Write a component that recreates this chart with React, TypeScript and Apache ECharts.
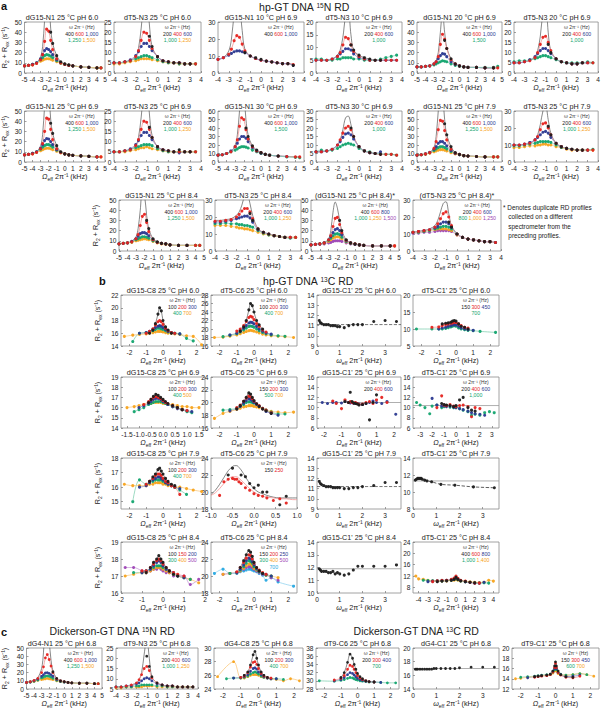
import React, { useEffect, useRef } from "react";
import * as echarts from "echarts";

// ---------- x grids (kHz) ----------
const X_N5 = [-5, -4.5, -4, -3.5, -3, -2.75, -2.5, -2.25, -2, -1.75, -1.5, -1, -0.5, 0, 0.5, 1, 2, 3, 4, 4.5];
const X_N4 = [-4, -3.5, -3, -2.5, -2, -1.75, -1.5, -1.25, -1, -0.75, -0.5, 0, 0.5, 1, 1.5, 2, 2.5, 3, 3.5];
const X_N4G = [-4, -3.5, -3, -2.75, -2.5, -2.25, -2, -1.75, -1.5, -1, -0.5, 0, 0.5, 1, 1.5, 2, 2.5, 3];
const X_C25 = [-2.3, -1.8, -1.4, -1, -0.8, -0.6, -0.45, -0.3, -0.2, -0.1, 0, 0.15, 0.3, 0.5, 0.7, 1, 1.4, 1.8, 2.3];
const X_C16 = [-1.5, -1.2, -1, -0.8, -0.6, -0.5, -0.4, -0.3, -0.2, -0.1, 0, 0.1, 0.2, 0.4, 0.6, 0.8, 1, 1.2, 1.5];
const X_C23 = [-2.1, -1.8, -1.5, -1.3, -1, -0.8, -0.6, -0.5, -0.4, -0.3, -0.2, -0.1, 0, 0.2, 0.4, 0.6, 0.8, 1, 1.3, 1.6, 2.1];
const X_C35 = [-3.3, -3, -2.6, -2.2, -2, -1.6, -1.2, -1, -0.8, -0.5, -0.2, 0, 0.3, 0.6, 1, 1.3, 1.6, 2, 2.4, 2.8, 3.2];
const X_C10 = [-1, -0.9, -0.8, -0.7, -0.6, -0.5, -0.45, -0.4, -0.35, -0.3, -0.2, -0.1, 0, 0.1, 0.2, 0.3, 0.45, 0.6, 0.75, 0.9, 1];
const X_C2 = [-1.8, -1.4, -1, -0.8, -0.6, -0.45, -0.3, -0.2, -0.1, 0, 0.15, 0.3, 0.5, 0.7, 1, 1.3, 1.7];
const X_C45 = [-4.3, -4, -3.5, -3, -2.5, -2, -1.5, -1, -0.5, -0.2, 0, 0.2, 0.5, 1, 1.5, 2, 2.5, 3, 3.5, 4];
const X_C0 = [-2.3, -2, -1.6, -1.2, -1, -0.8, -0.5, -0.3, -0.15, -0.05, 0, 0.05, 0.15, 0.3, 0.6, 1, 1.4, 1.8, 2.2];
const X_W = [0.1, 0.15, 0.2, 0.3, 0.4, 0.5, 0.6, 0.7, 0.8, 0.9, 1, 1.2, 1.4, 1.6, 1.8, 2, 2.5, 3, 3.5];
const X_W28 = [0.1, 0.15, 0.2, 0.25, 0.3, 0.35, 0.4, 0.5, 0.6, 0.8, 1.2, 1.8, 2.6, 3.5];

const _ = null;

// ---------- panel a : hp-GT 15N ----------
// 01 dG15-N1 25C pH 6.0
const W01 = ["400", "600", "1,000", "1,250", "1,500"];
const Y01 = [
  [_, _, _, _, _, _, _, _, _, 40, 29, 17, 11, 9, 8, 7, 6, 5.5, 5, _],
  [7, 7.5, 8, 9.5, 13, 18, 31, 43, 41, 32, 23, 14, 10, 8.5, 7.5, 7, 6, 5.5, 5, 5],
  [7, 7.5, 8.5, 10, 14, 18, 22, 24, 23, 21, 18, 13, 10, 8.5, 7.5, 7, 6, 5.5, _, _],
  [7, 7.5, 8.5, 10, 13, 15, 17, 18, 17.5, 16.5, 15, 12, 10, 8.5, 7.5, 7, 6, 5.5, 5, 5],
  [7, 7.5, 8, 9.5, 11.5, 12.5, 13.5, 14, 14, 13.5, 12.5, 11, 9.5, 8.5, 7.5, 7, 6, 5.5, 5, 5],
];
const F01 = [7, 7.5, 8.5, 10, 16, 26, 52, 80, 72, 44, 29, 17, 11, 9, 8, 7, 6, 5.5, 5, 5];
// 02 dT5-N3 25C pH 6.0
const W02 = ["200", "400", "600", "1,000", "1,250"];
const Y02 = [
  [_, _, _, _, _, _, _, _, _, 18, 13, 8, 6, 5.5, 5, 5, 4.5, 4.5, _],
  [5, 5, 5.5, 6, 8, 11, 16, 20, 19.5, 16, 12, 8, 6, 5.5, 5, 5, 4.5, 4.5, 4.5],
  [5, 5, 5.5, 6.5, 8.5, 10.5, 13, 14.5, 14.5, 13, 11, 8, 6, 5.5, 5, 5, 4.5, 4.5, _],
  [5, 5, 5.5, 6, 7, 7.5, 8, 8.5, 8.5, 8, 7.5, 6.5, 5.5, 5, 5, 4.5, 4.5, 4.5, 4.5],
  [4.5, 4.5, 5, 5.5, 6, 6.5, 7, 7, 7, 7, 6.5, 6, 5.5, 5, 5, 4.5, 4.5, 4.5, 4.5],
];
const F02 = [5, 5, 5.5, 6, 8, 12, 22, 35, 40, 24, 13, 8, 6, 5.5, 5, 5, 4.5, 4.5, 4.5];
// 03 dG15-N1 10C pH 6.9
const W03 = ["400", "600", "1,000"];
const Y03 = [
  [_, _, _, _, _, _, _, _, 12, 10, 9, 8, 7, 6.5, 6, 5.5, 5.5, 4.5],
  [8, 9, 11, 14, 19, 22, 21, 17, 13, 10, 8.5, 7.5, 7, 6.5, 6, 5.5, 5.5, 5],
  [8, 9, 10.5, 11.5, 12.5, 13, 13, 12.5, 12, 10, 8.5, 7.5, 7, 6.5, 6, 5.5, 5.5, 4.5],
];
const F03 = [8, 9, 13, 20, 35, 45, 40, 25, 14, 10, 8.5, 7.5, 7, 6.5, 6, 5.5, 5.5, 5];
// 04 dT5-N3 10C pH 6.9
const W04 = ["200", "400", "600", "1,000"];
const Y04 = [
  [_, _, _, _, _, _, _, _, _, 11, 9, 7, 6, 5.5, 5, 5, _, _, _],
  [5, 5, 5, 5.5, 6.5, 8, 11, 14, 13.5, 11, 8.5, 6.5, 5.5, 5, 5, 5, 5, 5, 5],
  [5, 5, 5, 5.5, 6.5, 7.5, 8.5, 9.5, 9.5, 9, 7.5, 6, 5.5, 5, 5, 5, 5, 5, 5],
  [5.5, 5.5, 5, 5, 5.5, 5.5, 6, 6, 6, 6, 5.5, 5.5, 5, 5, 5, 5.5, 6, 6.5, 7],
];
const F04 = [5, 5, 5, 5.5, 7, 9, 14, 22, 24, 15, 9, 7, 6, 5.5, 5, 5, 5, 5, 5];
// 05 dG15-N1 20C pH 6.9
const W05 = ["400", "600", "1,000", "1,500"];
const Y05 = [
  [_, _, _, _, _, _, _, _, _, 32, 24, 14, 9, 7, 6, 5.5, 5.5, 5, 5, _],
  [6, 6, 6.5, 7, 9, 11, 16, 28, 38, 33, 24, 13, 9, 7, 6, 5.5, 5.5, 5, 5, 5],
  [6, 6, 6.5, 7, 9, 11, 14, 17, 19, 18.5, 16, 11, 8.5, 7, 6, 5.5, 5.5, 5, 5, _],
  [6, 6, 6.5, 7, 8, 9, 10, 11, 12, 11.5, 11, 9, 7.5, 6.5, 6, 5.5, 5.5, 5.5, 5.5, 6.5],
];
const F05 = [6, 6, 6.5, 7, 9, 12, 20, 40, 60, 40, 25, 14, 9, 7, 6, 5.5, 5.5, 5, 5, 5];
// 06 dT5-N3 20C pH 6.9
const W06 = ["200", "400", "600", "1,000"];
const Y06 = [
  [_, _, _, _, _, _, _, _, _, 14, 10, 7, 5.5, 5, 4.5, 4.5, 5, _, _],
  [5, 5, 5.5, 6, 7.5, 10, 14, 17.5, 18, 15, 11, 7, 5.5, 5, 4.5, 4.5, 5, 5, 5],
  [5, 5, 5.5, 6.5, 8, 9.5, 11, 12, 12, 11, 9.5, 7, 5.5, 5, 4.5, 4.5, 5, 5, _],
  [5.5, 6, 6, 6.5, 7, 7.5, 8, 8.5, 8.5, 8, 7.5, 6.5, 5.5, 5, 5, 5, 5, 5.5, 5],
];
const F06 = [5, 5, 5.5, 6, 8, 11, 18, 30, 36, 20, 11, 7, 5.5, 5, 4.5, 4.5, 5, 5, 5];
// 07 dG15-N1 25C pH 6.9
const W07 = ["400", "600", "1,000", "1,250", "1,500"];
const Y07 = [
  [_, _, _, _, _, _, _, _, _, 38, 28, 16, 10, 8, 7, 6.5, 6, 5.5, _, _],
  [7, 7.5, 8, 9.5, 13, 18, 30, 43, 42, 32, 22, 13, 9.5, 8, 7, 6.5, 6, 5.5, 5, 5],
  [7, 7.5, 8.5, 10, 13.5, 17, 21, 23, 22.5, 20, 17, 12, 9.5, 8, 7, 6.5, 6, 5.5, 5, _],
  [7, 7.5, 8.5, 10, 12.5, 14.5, 16, 17, 17, 16, 14.5, 11.5, 9.5, 8, 7, 6.5, 6, 5.5, 5, _],
  [7, 7.5, 8, 9.5, 11, 12, 13, 13.5, 13.5, 13, 12, 10.5, 9, 8, 7, 6.5, 6, 5.5, 5, 5],
];
const F07 = [7, 7.5, 8.5, 10, 16, 27, 55, 80, 70, 42, 28, 16, 10, 8, 7, 6.5, 6, 5.5, 5, 5];
// 08 dT5-N3 25C pH 6.9
const W08 = ["200", "400", "600", "1,000", "1,250"];
const Y08 = [
  [_, _, _, _, _, _, _, _, _, 17, 12, 7.5, 6, 5.5, 5, 6, 5, 5, _],
  [5, 5, 5.5, 6, 8, 11, 16, 20, 19.5, 16, 12, 7.5, 6, 5.5, 5, 5, 5, 5, 5],
  [5, 5, 5.5, 6.5, 8.5, 10.5, 13, 14.5, 14.5, 13, 11, 7.5, 6, 5.5, 5, 4.5, 5, 5, _],
  [5, 5, 5.5, 6, 7, 7.5, 8, 8.5, 8.5, 8.5, 8, 6.5, 5.5, 5, 5, 5, 5, 5, 5],
  [5, 5, 5, 5.5, 6, 6.5, 7, 7, 7.5, 7, 6.5, 6, 5.5, 5, 5, 5, 5, 5, 5],
];
const F08 = [5, 5, 5.5, 6, 8, 12, 22, 35, 40, 24, 13, 7.5, 6, 5.5, 5, 5, 5, 5, 5];
// 09 dG15-N1 30C pH 6.9
const W09 = ["400", "600", "1,000", "1,500"];
const Y09 = [
  [_, _, _, _, _, _, _, _, _, 40, 30, 19, 14, 11, 9, 8, 7, _, _, _],
  [8, 8.5, 10, 12, 18, 26, 42, 52, 50, 38, 27, 18, 13, 11, 9, 8, 7, 6.5, 6, 6],
  [8, 8.5, 10, 13, 18, 22, 27, 30, 30, 28, 24, 17, 13, 10.5, 9, 8, 7, 6.5, _, _],
  [8, 8.5, 10, 12, 14, 15.5, 17, 18, 18, 17.5, 16.5, 14, 12, 10, 9, 8, 7, 6, 5.5, 5],
];
const F09 = [8, 8.5, 10, 12, 20, 32, 60, 90, 80, 50, 32, 19, 14, 11, 9, 8, 7, 6.5, 6, 6];
// 10 dT5-N3 30C pH 6.9
const W10 = ["200", "400", "600", "1,000"];
const Y10 = [
  [_, _, _, _, _, _, _, _, _, 20, 15, 9, 6.5, 5.5, 5, 4.5, _, _, _],
  [6, 6, 6.5, 7.5, 10, 13, 17, 20, 21, 19, 15, 9, 6.5, 5.5, 5, 4.5, 4.5, 4.5, 4],
  [6, 6, 6.5, 7.5, 10, 12, 14.5, 16.5, 17, 16, 13.5, 9, 6.5, 5.5, 5, 6, _, _, _],
  [6, 7, 6.5, 7, 8, 9, 10, 10.5, 11, 10.5, 10, 8, 6.5, 6, 5, 5, 4.5, 4.5, 4],
];
const F10 = [6, 6, 6.5, 7.5, 10, 13, 19, 26, 27, 22, 15, 9, 6.5, 5.5, 5, 4.5, 4.5, 4.5, 4];
// 11 dG15-N1 25C pH 7.9
const W11 = ["400", "600", "1,000", "1,250", "1,500"];
const Y11 = [
  [_, _, _, _, _, _, _, _, _, 45, 32, 18, 11, 9, 7.5, 7, 6.5, 6, _, _],
  [8, 8.5, 9.5, 11, 16, 24, 38, 49, 48, 37, 26, 15, 10.5, 9, 7.5, 7, 6.5, 6, 6, 6],
  [8, 8.5, 9.5, 11.5, 15, 18, 22, 24, 24, 22, 19, 13.5, 10, 8.5, 7.5, 7, 6.5, 6, _, _],
  [8, 8.5, 9.5, 11, 13.5, 15.5, 17, 18, 18, 17, 15.5, 12.5, 10, 8.5, 7.5, 7, 6.5, 6, 6, 6],
  [8, 8.5, 9, 10.5, 12, 13, 14, 14.5, 14.5, 14, 13, 11, 9.5, 8.5, 7.5, 7, 6.5, 6, 6, 6],
];
const F11 = [8, 8.5, 9.5, 11, 17, 30, 60, 90, 80, 50, 32, 18, 11, 9, 7.5, 7, 6.5, 6, 6, 6];
// 12 dT5-N3 25C pH 7.9
const W12 = ["200", "400", "600", "1,000", "1,250"];
const Y12 = [
  [_, _, _, _, _, _, _, _, _, 21, 16, 11, 9, 8, 7.5, 7, 7, _, _],
  [10, 10, 10.5, 11, 13, 15, 19, 22.5, 23, 20, 16, 11, 9, 8, 7.5, 7, 7, 7, 7],
  [10, 10, 10.5, 11.5, 13, 14.5, 16, 17.5, 18, 17, 14.5, 11, 9, 8, 7.5, 7, 7, 7, _],
  [9.5, 9.5, 10, 10.5, 11, 11.5, 12, 12, 12, 12, 11.5, 10, 8.5, 8, 7.5, 7, 7, 7, 7.5],
  [8.5, 8.5, 9, 9.5, 9.5, 10, 10, 10.5, 10.5, 10, 10, 9, 8.5, 7.5, 7, 7, 7, 7, 7],
];
const F12 = [10, 10, 10.5, 11, 13, 16, 22, 30, 33, 25, 17, 11, 9, 8, 7.5, 7, 7, 7, 7];
// 13 dG15-N1 25C pH 8.4
const W13 = ["400", "600", "1,000", "1,250", "1,500"];
const Y13 = [
  [_, _, _, _, _, _, _, _, _, 30, 22, 12, 9, 7.5, 7, 6, 5.5, 5.5, _, _],
  [7, 7.5, 8, 9, 12, 16, 25, 34, 36, 28, 19, 11, 8.5, 7.5, 7, 6, 5.5, 5.5, 5.5, 5.5],
  [7, 7.5, 8, 9.5, 12, 14.5, 17, 18, 18, 17, 15, 11, 8.5, 7.5, 7, 6, 5.5, 5.5, _, _],
  [7, 7.5, 8, 9, 11, 12, 13, 14, 14, 13.5, 12.5, 10, 8.5, 7.5, 7, 6, 5.5, 5.5, 5.5, 5.5],
  [7, 7.5, 8, 8.5, 10, 10.5, 11, 11.5, 12, 11.5, 11, 9.5, 8, 7, 6.5, 6, 5.5, 5.5, 5.5, 5.5],
];
const F13 = [7, 7.5, 8, 9.5, 14, 22, 40, 60, 55, 35, 22, 12, 9, 7.5, 7, 6, 5.5, 5.5, 5.5, 5.5];
// 14 dT5-N3 25C pH 8.4
const W14 = ["200", "400", "600", "1,000", "1,250"];
const Y14 = [
  [_, _, _, _, _, _, _, _, _, 22, 18, 13, 11, 10, 9, 8.5, 8, _, _],
  [17.5, 17.5, 18, 18.5, 20, 21.5, 23.5, 25, 25, 23, 19, 13, 11, 10, 9, 8.5, 8, 8, 8],
  [17, 17, 17.5, 18, 19, 19.5, 20, 20.5, 20.5, 19.5, 17, 12.5, 11, 10, 9, 8.5, 8, 8, _],
  [16, 16, 16.5, 16, 16, 15.5, 15.5, 15, 15, 14.5, 14, 12, 10.5, 9.5, 9, 8.5, 8, 7.5, 8],
  [15, 15, 15, 14.5, 14, 13.5, 13.5, 13, 13, 12.5, 12, 11, 10, 9.5, 9, 8.5, 8, 8, 8],
];
const F14 = [18, 18, 18.5, 19, 21, 23, 27, 32, 33, 28, 21, 13, 11, 10, 9, 8.5, 8, 8, 8];
// 15 (dG15-N1 25C pH 8.4)*
const W15 = ["400", "600", "800", "1,000", "1,250", "1,500"];
const Y15 = [
  [_, _, _, _, _, _, _, _, _, 30, 20, 11, 8, 7, 6, 5.5, 5, 5, 5, _],
  [6, 6.5, 7, 8, 11, 15, 24, 32, 33, 26, 18, 10.5, 8, 7, 6, 5.5, 5, 5, 5, 5],
  [6, 6.5, 7, 8, 11, 14, 18, 21, 22, 20, 16, 10, 8, 6.5, 6, 5.5, 5, 5, 5, _],
  [6, 6.5, 7, 8, 10.5, 12.5, 15, 16.5, 17, 16, 13.5, 9.5, 7.5, 6.5, 6, 5.5, 5, 5, 5, _],
  [6, 6.5, 7, 7.5, 9.5, 11, 12.5, 13.5, 14, 13.5, 12, 9, 7.5, 6.5, 6, 5.5, 5, 5, 5, 5],
  [6, 6.5, 6.5, 7, 8, 8.5, 9.5, 10, 10, 10, 9.5, 8, 7, 6.5, 6, 5.5, 5, 5, 5, 5],
];
const F15 = [6, 6.5, 7, 8, 12, 20, 38, 48, 42, 30, 20, 11, 8, 7, 6, 5.5, 5, 5, 5, 5];
// 16 (dT5-N3 25C pH 8.4)*
const W16 = ["200", "400", "600", "800", "1,000", "1,250"];
const Y16 = [
  [_, _, _, _, _, _, _, _, _, 17, 14, 10, 8, 7, 6.5, 6, 5.5, 5.5, _],
  [11, 11.5, 12, 12.5, 14, 16, 19, 22, 23, 20, 15, 10, 8, 7, 6.5, 6, 5.5, 5.5, 5],
  [11, 11.5, 12, 12.5, 13.5, 14.5, 16, 17, 17, 16, 14, 10, 8, 7, 6.5, 6, 5.5, 5.5, 5],
  [11, 11, 11.5, 12, 13, 13.5, 14, 14.5, 14.5, 14, 13, 10, 8, 7, 6.5, 6, 5.5, 5.5, 5],
  [11, 11, 11.5, 12, 12.5, 13, 13, 13, 13, 12.5, 12, 9.5, 8, 7, 6.5, 6, 5.5, 5.5, 5],
  [10.5, 10.5, 11, 11, 11.5, 12, 12, 12, 12, 12, 11.5, 9.5, 8, 7, 6.5, 6, 5.5, 5.5, 5],
];
const F16 = [11, 11.5, 12, 13, 15, 18, 23, 28, 29, 22, 15, 10, 8, 7, 6.5, 6, 5.5, 5.5, 5];

// ---------- panel b : hp-GT 13C ----------
const W17 = ["100", "200", "300", "400", "700"];
const Y17 = [
  [_, _, _, _, 16, 16.5, 17.5, 19, 20, 19.5, 18, 17, 16.5, 16, _, _, _, _, _],
  [_, _, _, 16, 16.3, 16.7, 17.3, 17.8, 18, 17.8, 17.4, 16.8, 16.4, 16.1, 16, _, _, _, _],
  [_, _, 16, 16.1, 16.3, 16.6, 16.9, 17.1, 17.2, 17.1, 16.9, 16.6, 16.3, 16.1, 16, 15.9, _, _, _],
  [_, 14.7, 16, 16.1, 16.2, 16.4, 16.6, 16.8, 16.8, 16.7, 16.6, 16.4, 16.2, 16.1, 16, 15.9, 15.2, 14.8, _],
  [15.5, 15.7, 15.8, 15.9, 16, 16.1, 16.2, 16.3, 16.3, 16.3, 16.2, 16.1, 16, 16, 15.9, 15.8, 15.6, 15.5, 14.2],
];
const W18 = ["100", "200", "300", "400", "700"];
const Y18 = [
  [_, _, _, _, 19.5, 20.5, 22, 24.5, 26, 25.5, 24, 22, 21, 20, _, _, _, _, _],
  [_, _, _, 19.5, 20, 20.8, 21.8, 22.7, 23, 22.8, 22.2, 21.3, 20.6, 19.8, 19.3, _, _, _, _],
  [_, _, 18.6, 19, 19.5, 20.2, 20.8, 21.4, 21.6, 21.5, 21.2, 20.6, 20, 19.5, 19.1, 18.8, _, _, _],
  [_, 18.2, 18.5, 18.9, 19.3, 19.8, 20.2, 20.6, 20.7, 20.6, 20.4, 20, 19.6, 19.2, 18.9, 18.6, 18.4, 18.3, _],
  [18, 18.1, 18.3, 18.6, 18.9, 19.2, 19.4, 19.6, 19.7, 19.6, 19.5, 19.3, 19.1, 18.8, 18.6, 18.4, 18.3, 18.2, 18],
];
const Y19 = [[11.5, 11.3, 11.2, 11.1, 11.1, 11.1, 11, 11, 11, 10.9, 10.9, 10.8, 11, 11.1, 11.1, 11.1, 11.4, 11.5, 11.4]];
const R19 = [[0, 11.1], [3.7, 11.1]];
const W20 = ["150", "300", "450", "700"];
const Y20 = [
  [_, _, _, _, 11.5, 11.7, 11.8, 12, 12.3, 12.5, 12.3, 11.5, 10.8, 10.5, 10, _, _, _, _],
  [_, _, 10.5, 10.6, 11, 11.3, 11.5, 11.7, 11.8, 12, 11.9, 11.5, 11, 10.5, 10.3, _, _, _, _],
  [_, _, _, 10, 10.3, 10.5, 10.8, 11, 11.2, 11.3, 11.2, 10.8, 10.3, 10, 9.8, 9.6, _, _, _],
  [10, _, 10, 10, 10, 10.2, 10.4, 10.6, 10.8, 11, 10.8, 10.3, 10, 9.8, 9.6, 9.5, 9.3, _, 9],
];
const W21 = ["100", "200", "300", "400", "500"];
const Y21 = [
  [_, _, _, _, 16.5, 16.8, 17.1, 17.3, 17.2, 17, 16.8, 16.6, 16.4, 16.2, 16, 15.8, _, _, _],
  [_, _, _, 16.3, 16.6, 16.8, 17, 17.1, 17, 16.9, 16.7, 16.5, 16.4, 16.2, 16, 15.8, 15.7, _, _],
  [_, _, 16, 16.2, 16.4, 16.6, 16.8, 16.9, 16.9, 16.8, 16.6, 16.5, 16.3, 16.1, 15.9, 15.8, 15.7, 15.6, _],
  [_, 15.6, 15.8, 16, 16.3, 16.4, 16.5, 16.6, 16.6, 16.6, 16.5, 16.4, 16.3, 16.1, 16, 15.8, 15.6, 15.5, _],
  [16, 16.1, 16.2, 16.3, 16.4, 16.4, 16.5, 16.5, 16.5, 16.5, 16.4, 16.4, 16.3, 16.3, 16.2, 16.1, 16.1, 16, 16],
];
const W22 = ["150", "200", "300", "500", "700"];
const Y22 = [
  [_, _, _, 19, 19.5, 20.2, 20.8, 21.5, 21.3, 20.8, 20.3, 19.8, 19.4, 19, 18.7, 18.3, _, _, _],
  [_, _, _, 19.2, 19.6, 20.2, 20.7, 21, 20.9, 20.6, 20.2, 19.8, 19.5, 19.1, 18.8, 18.4, _, _, _],
  [_, _, 18.7, 19, 19.4, 19.9, 20.3, 20.6, 20.5, 20.3, 20, 19.7, 19.4, 19, 18.6, 18.3, 18, _, _],
  [_, 18.8, 18.9, 19.1, 19.4, 19.7, 20, 20.1, 20.1, 20, 19.9, 19.7, 19.4, 19.1, 18.8, 18.5, 18.2, 18.2, _],
  [17.5, 18.3, 18.6, 18.9, 19.1, 19.3, 19.4, 19.5, 19.5, 19.5, 19.4, 19.3, 19.2, 19, 18.8, 18.6, 18.5, 18.4, 18.5],
];
const W23 = ["200", "400", "600"];
const Y23 = [
  [_, _, _, _, _, 11.2, 11, 13, 11.2, 10.9, 10.8, 10.7, 10.5, 10.6, 10.8, 7.6, 11, 12.5, _, _, _],
  [_, _, 11.3, 10.8, 9.8, 11.5, 11, 11.2, 11, 10.9, 11, 10.8, 10.6, 10.7, 11, 11.2, 10.8, 11.5, 12, 11, _],
  [11, 10.8, 11, 11, 10.9, 11.2, 11, 10.9, 11, 10.8, 10.9, 10.8, 10.7, 10.6, 10.8, 11, 11.3, 11, 10.8, 11.2, 8.7],
];
const R23 = [[-2.4, 11], [2.4, 11]];
const W24 = ["200", "400", "600", "1,000"];
const Y24 = [
  [_, _, _, _, _, _, 10.8, 10.6, 10.5, 10.4, 10.2, 10.4, 11.5, 12, 10, 9.5, 9.3, _, _, _, _],
  [_, _, _, _, _, 10, 12.3, 10.5, 10.4, 10.6, 10.3, 10.2, 10.4, 10.5, 10.2, 8.2, 10, 9.8, _, _, _],
  [_, _, _, _, 11.8, 10.5, 10.3, 10.4, 10.2, 10.3, 10.1, 10, 9.8, 9.6, 9.3, 9, 8.8, 8.7, 8.5, _, _],
  [11, 10.5, 10, 8.8, 10.3, 10.5, 10, 10.2, 10.4, 10.1, 10, 10, 9.8, 9.5, 9.2, 8.5, 8.7, 8.5, 9, 9.2, 9],
];
const R24 = [[-3.6, 10.4], [3.6, 10.4]];
const W25 = ["100", "200", "300", "400", "700"];
const Y25 = [
  [_, _, _, _, 16.4, 16.7, 16.9, 17.2, 17.3, 17.1, 16.9, 16.6, 16.4, 16.2, 16.1, _, _, _, _],
  [_, _, _, 16.2, 16.4, 16.6, 16.8, 16.9, 16.9, 16.8, 16.6, 16.4, 16.3, 16.1, 16, 15.5, _, _, _],
  [_, _, 16, 16.1, 16.3, 16.5, 16.6, 16.7, 16.7, 16.6, 16.5, 16.3, 16.2, 16.1, 16, 15.9, _, _, _],
  [_, 15, 16.5, 16.2, 16.3, 16.4, 16.5, 16.5, 16.5, 16.5, 16.4, 16.3, 16.2, 16.1, 16, 15.8, 15.5, _, _],
  [16.2, 16.1, 16.1, 16.1, 16.2, 16.2, 16.3, 16.3, 16.3, 16.3, 16.2, 16.2, 16.1, 16.1, 16, 16, 15.9, 15.8, 15.7],
];
const W26 = ["150", "250"];
const Y26 = [
  [_, _, _, _, 22, 22.8, _, _, _, 22, 21.8, 21, 20.5, 20.8, 20, 20, _, 18.5, 19.5, _, _],
  [_, _, 19.6, 21.2, 21.5, 21.6, 21.5, 21.5, 21.2, 21, 20.5, 20.2, 19.8, 19.6, 19.5, 19.3, 19, 19.2, 18.7, _, _],
];
const F26 = [
  [19.7, 20.2, 20.9, 21.7, 22.5, 23, 23.1, 23.1, 22.9, 22.6, 21.8, 21, 20.4, 20, 19.8, 19.6, 19.4, 19.3, 19.3, 19.3, 19.3],
  [19.6, 19.9, 20.4, 21, 21.5, 21.8, 21.8, 21.8, 21.6, 21.4, 20.9, 20.4, 20, 19.7, 19.5, 19.4, 19.3, 19.2, 19.2, 19.1, 19.1],
];
const Y27 = [[11.7, 11.5, 11.4, 11.3, 11.2, 11.2, 11.2, 11.1, 11.1, 11.1, 11.1, 11, 11, 11.1, 11.1, 11.2, 11.3, 11.6, 11.6]];
const R27 = [[0, 11.2], [3.7, 11.2]];
const Y28 = [[11.4, 11.5, 11.6, 11.6, 11.6, 11.6, 11.5, 11.4, 11.3, 11.2, 10.9, 10.8, 10.6, 10.5]];
const R28 = [[0, 11.3], [3.7, 11.3]];
const W29 = ["100", "150", "200", "300", "400", "500"];
const Y29 = [
  [_, _, _, 17.2, 17.5, 17.8, 18, 18.2, 18, 17.8, 17.5, 17.3, 17.1, 17, _, _, _],
  [_, _, 17.3, 17.3, 17.5, 17.7, 17.9, 18, 17.9, 17.7, 17.5, 17.3, 17.2, 17.1, 17, _, _],
  [_, _, 17.2, 17.3, 17.4, 17.6, 17.8, 17.9, 17.8, 17.6, 17.4, 17.3, 17.2, 17, 16.9, _, _],
  [_, 17.2, 17.2, 17.3, 17.4, 17.5, 17.6, 17.6, 17.6, 17.5, 17.4, 17.3, 17.1, 17, 16.9, 16.8, _],
  [17, 17.1, 17.2, 17.2, 17.3, 17.4, 17.5, 17.5, 17.5, 17.4, 17.3, 17.2, 17.1, 17, 16.9, 16.8, 16.6],
  [17.5, 17.5, 17.3, 17.2, 17.3, 17.4, 17.4, 17.5, 17.4, 17.3, 17.2, 17.2, 17, 17, 17, 16.5, 16.8],
];
const W30 = ["150", "200", "250", "300", "400", "500", "700"];
const Y30 = [
  [_, _, _, _, 21, 21.8, 22.5, 23, 22.8, 22.3, 21.6, 21, 20.6, 20.3, _, _, _, _, _],
  [_, _, _, 20.5, 21, 21.6, 22.1, 22.5, 22.4, 22, 21.5, 21, 20.7, 20.4, 20.2, _, _, _, _],
  [_, _, _, 20.4, 20.8, 21.3, 21.8, 22.1, 22, 21.7, 21.3, 20.9, 20.6, 20.3, 20.2, 20, _, _, _],
  [_, _, 20.3, 20.4, 20.7, 21.1, 21.5, 21.8, 21.7, 21.5, 21.1, 20.8, 20.5, 20.3, 20.1, 20, _, _, _],
  [_, 20.2, 20.3, 20.4, 20.6, 20.9, 21.2, 21.4, 21.4, 21.2, 20.9, 20.7, 20.5, 20.3, 20.1, 20, 19.8, _, _],
  [_, 20.2, 20.3, 20.4, 20.6, 20.8, 21, 21.1, 21.1, 21, 20.8, 20.6, 20.4, 20.2, 20.1, 19.8, 19.5, _, _],
  [20.3, 20.8, 20.3, 20.3, 20.5, 20.6, 20.7, 20.8, 20.8, 20.7, 20.6, 20.5, 20.3, 20.1, 19.5, 19.8, 19.3, _, 18.8],
];
const Y31 = [[11.9, 11.8, 11.7, 11.7, 11.7, 11.6, 11.6, 11.7, 11.5, 11.6, 11.5, 11.4, 11.5, 11.8, 12.1, 12.1, 12.1, 12.1, 12.2]];
const R31 = [[0, 11.9], [3.7, 11.9]];
const W32 = ["400", "600", "800", "1,000", "1,400"];
const Y32 = [
  [_, _, _, _, _, 10, 10.2, 10.3, 10.5, 10.8, 11.5, 10.8, 10.3, 10, 9.8, 9.6, _, _, _, _],
  [_, _, _, _, 10, 10.3, 10.5, 10.5, 10.8, 11.3, 12, 11.2, 10.5, 10.2, 9.8, 9.5, 9.5, _, _, _],
  [_, _, _, 10, 10.2, 10.3, 10.4, 10.5, 10.6, 11, 11.5, 11, 10.4, 10, 9.7, 9.5, 9.5, 9.8, _, _],
  [_, _, 10.5, 10.4, 10.3, 10.3, 10.3, 10.4, 10.5, 10.8, 11.2, 10.7, 10.3, 10, 9.8, 9.6, 9.5, 9.6, 9.5, _],
  [12, 11, 10.8, 10.5, 10.3, 10.2, 10.3, 10.3, 10.4, 10.5, 10.8, 10.5, 10.3, 10.1, 9.9, 9.8, 9.7, 9.8, 10.5, 10.2],
];

// ---------- panel c : Dickerson-GT ----------
const W33 = ["400", "600", "1,000", "1,250", "1,500"];
const Y33 = [
  [_, _, _, _, _, _, _, _, _, _, 21, 13, 10, 9, 8, 7.5, 7, 7, 6.5, _],
  [8, 9, 10.5, 13, 20, 27, 38, 42, 36, 28, 20, 12.5, 10, 9, 8, 7.5, 7, 7, 6.5, 6.5],
  [8, 8.5, 10, 12, 15.5, 17.5, 19.5, 20, 19, 17.5, 15.5, 11.5, 9.5, 8.5, 8, 7.5, 7, 7, 6.5, _],
  [8, 8.5, 9.5, 11, 13.5, 14.5, 15.5, 16, 15.5, 14.5, 13, 10.5, 9, 8.5, 8, 7.5, 7, 7, 6.5, 6.5],
  [8, 8.5, 9, 10.5, 11.5, 12, 12.5, 13, 12.5, 12, 11.5, 10, 9, 8.5, 8, 7.5, 7, 7, 6.5, 6.5],
];
const F33 = [8, 9, 10.5, 14, 25, 45, 80, 90, 60, 35, 22, 13, 10, 9, 8, 7.5, 7, 7, 6.5, 6.5];
const W34 = ["200", "400", "600", "1,000", "1,250"];
const Y34 = [
  [_, _, _, _, _, _, _, _, 21, 16, 11, 8, 7, 6.5, 6.5, 6, 6, 6, 6],
  [6, 6, 6.5, 7, 8, 9.5, 12, 15, 16, 14, 10.5, 8, 7, 6.5, 6.5, 6, 6, 6, 6],
  [6, 6, 6.5, 6.5, 7.5, 8, 9, 10, 10.5, 10, 9, 7.5, 7, 6.5, 6.5, 6, 6, 6, 6],
  [6, 6, 6, 6, 6.5, 6.5, 7, 7, 7, 7, 7, 6.5, 6.5, 6, 6, 6, 6, 6, 6],
  [5.5, 5.5, 6, 6, 6, 6, 6, 6.5, 6.5, 6.5, 6.5, 6, 6, 6, 6, 6, 6, 6, 6],
];
const F34 = [6, 6, 6.5, 7, 8, 9.5, 13, 22, 30, 20, 11, 8, 7, 6.5, 6.5, 6, 6, 6, 6];
const W35 = ["100", "200", "300", "400", "700"];
const Y35 = [
  [_, _, _, _, 26, 26.5, 27.5, 29, 29.5, 28.5, 27.5, 26.5, 26, 25.7, _, _, _, _, _],
  [_, _, _, 25.7, 25.9, 26.4, 27.2, 27.9, 28, 27.6, 27, 26.3, 25.9, 25.7, 25.6, _, _, _, _],
  [_, _, 25.6, 25.7, 25.8, 26.1, 26.6, 27, 27.1, 26.9, 26.5, 26.1, 25.8, 25.6, 25.5, 25.5, _, _, _],
  [_, 25.5, 25.6, 25.6, 25.7, 25.9, 26.2, 26.4, 26.5, 26.4, 26.2, 25.9, 25.7, 25.6, 25.5, 25.5, 25.4, _, _],
  [25.8, _, 28, 25.6, 25.6, 25.8, 26, 26.1, 26.1, 26.1, 26, 25.8, 25.7, 25.6, 25.5, 25.4, 25.2, 25.5, 25.2],
];
const W36 = ["200", "300", "400", "700"];
const Y36 = [
  [_, _, _, 30.8, 32, 34.5, 36.5, 35.5, 34, 32.8, 31.8, 31, 30.5, 30, 29.8, 29.7, _, _, _],
  [_, _, 30.2, 30.6, 31.3, 32.8, 33.8, 33.5, 32.8, 32, 31.3, 30.7, 30.3, 30, 29.8, 29.7, _, _, _],
  [_, _, 30, 30.3, 30.8, 31.5, 32, 31.8, 31.4, 31, 30.6, 30.3, 30.1, 29.9, 29.8, 29.7, 29.6, _, _],
  [30, _, 29.9, 30.1, 30.3, 30.6, 30.8, 30.7, 30.5, 30.3, 30.2, 30, 29.9, 29.8, 29.7, 29.7, 29.6, 29.5, 29.5],
];
const Y37 = [[16.9, 16.9, 16.9, 16.9, 16.9, 16.9, 16.9, 16.9, 16.9, 17, 17, 17, 17, 17, 17, 17.1, 17.2, 17.2, 17.2]];
const R37 = [[0, 17], [3.7, 17]];
const W38 = ["150", "300", "450", "600", "700"];
const Y38 = [
  [_, _, _, 14.4, 14.5, 14.6, 14.7, 14.9, 15.5, 16.5, 17.3, 16.5, 15.5, 14.8, 14.4, 14.3, _, _, _],
  [_, _, _, 14.3, 14.4, 14.5, 14.6, 14.8, 15.3, 16.2, 17, 16.2, 15.2, 14.7, 14.3, 14.2, 14.5, _, _],
  [_, _, 14.2, 14.4, 14.5, 14.6, 14.7, 14.9, 15.4, 16, 16.5, 16, 15.2, 14.8, 14.4, 14.5, 14.7, _, _],
  [_, 14.3, 14.4, 14.5, 14.6, 14.7, 14.8, 14.9, 15.3, 15.8, 16.2, 15.8, 15.2, 14.9, 14.7, 14.8, 15, 14.8, _],
  [14, 14.1, 14.3, 14.4, 14.5, 14.6, 14.7, 14.8, 15.1, 15.5, 15.8, 15.5, 15, 14.8, 14.7, 14.8, 15, 14.8, 14.5],
];

// ---------- styling ----------
const COL = ["#1c1c1c", "#e5231f", "#2b3990", "#12a46e", "#f7a31c", "#9d45b5", "#29a9e1"];
const FITC = ["#555555", "#f29596", "#8a90cc", "#84d0b2", "#fbc97e", "#c99ad9", "#93d4f0"];
const FONT = "'Liberation Sans', Arial, Helvetica, sans-serif";

const T2 = [-2, -1, 0, 1, 2];
const TW = [0, 1, 2, 3];

// layout of panels (positions in px)
const A_COLS = [19, 114, 218, 316, 417, 514];
const A3_COLS = [119, 215, 311, 413];
const B_COLS = [121, 211, 317, 413];
const B_TOPS = [295, 377, 458, 542];
const C_COLS = [22, 116, 214, 316, 413, 512];

type P = any;
const PANELS: P[] = [
  { title: "dG15-N1 25 °C pH 6.0", x: X_N5, y: Y01, f0: F01, pw: W01, xr: [-5, 5, 1], yr: [0, 50, 10], l: A_COLS[0], t: 22, w: 86, h: 51, yl: 9 },
  { title: "dT5-N3 25 °C pH 6.0", x: X_N4, y: Y02, f0: F02, pw: W02, xr: [-4, 4, 1], yr: [0, 25, 5], l: A_COLS[1], t: 22, w: 87, h: 51 },
  { title: "dG15-N1 10 °C pH 6.9", x: X_N4G, y: Y03, f0: F03, pw: W03, xr: [-4, 4, 1], yr: [0, 30, 10], l: A_COLS[2], t: 22, w: 86, h: 51 },
  { title: "dT5-N3 10 °C pH 6.9", x: X_N4, y: Y04, f0: F04, pw: W04, xr: [-4, 4, 1], yr: [0, 20, 5], l: A_COLS[3], t: 22, w: 86, h: 51 },
  { title: "dG15-N1 20 °C pH 6.9", x: X_N5, y: Y05, f0: F05, pw: W05, xr: [-5, 5, 1], yr: [0, 50, 10], l: A_COLS[4], t: 22, w: 85, h: 51 },
  { title: "dT5-N3 20 °C pH 6.9", x: X_N4, y: Y06, f0: F06, pw: W06, xr: [-4, 4, 1], yr: [0, 25, 5], l: A_COLS[5], t: 22, w: 86, h: 51 },

  { title: "dG15-N1 25 °C pH 6.9", x: X_N5, y: Y07, f0: F07, pw: W07, xr: [-5, 5, 1], yr: [0, 50, 10], l: A_COLS[0], t: 111, w: 86, h: 51, yl: 9 },
  { title: "dT5-N3 25 °C pH 6.9", x: X_N4, y: Y08, f0: F08, pw: W08, xr: [-4, 4, 1], yr: [0, 25, 5], l: A_COLS[1], t: 111, w: 87, h: 51 },
  { title: "dG15-N1 30 °C pH 6.9", x: X_N5, y: Y09, f0: F09, pw: W09, xr: [-5, 5, 1], yr: [0, 60, 10], l: A_COLS[2], t: 111, w: 86, h: 51 },
  { title: "dT5-N3 30 °C pH 6.9", x: X_N4, y: Y10, f0: F10, pw: W10, xr: [-4, 4, 1], yr: [0, 30, 5], l: A_COLS[3], t: 111, w: 86, h: 51 },
  { title: "dG15-N1 25 °C pH 7.9", x: X_N5, y: Y11, f0: F11, pw: W11, xr: [-5, 5, 1], yr: [0, 60, 10], l: A_COLS[4], t: 111, w: 85, h: 51 },
  { title: "dT5-N3 25 °C pH 7.9", x: X_N4, y: Y12, f0: F12, pw: W12, xr: [-4, 4, 1], yr: [0, 30, 10], l: A_COLS[5], t: 111, w: 86, h: 51 },

  { title: "dG15-N1 25 °C pH 8.4", x: X_N5, y: Y13, f0: F13, pw: W13, xr: [-5, 5, 1], yr: [0, 50, 10], l: A3_COLS[0], t: 200, w: 85, h: 51, yl: 13 },
  { title: "dT5-N3 25 °C pH 8.4", x: X_N4, y: Y14, f0: F14, pw: W14, xr: [-4, 4, 1], yr: [0, 30, 10], l: A3_COLS[1], t: 200, w: 86, h: 51 },
  { title: "(dG15-N1 25 °C pH 8.4)*", x: X_N5, y: Y15, f0: F15, pw: W15, xr: [-5, 5, 1], yr: [0, 50, 10], l: A3_COLS[2], t: 200, w: 88, h: 51 },
  { title: "(dT5-N3 25 °C pH 8.4)*", x: X_N4, y: Y16, f0: F16, pw: W16, xr: [-4, 4, 1], yr: [0, 30, 10], l: A3_COLS[3], t: 200, w: 88, h: 51 },

  { title: "dG15-C8 25 °C pH 6.0", x: X_C25, y: Y17, pw: W17, xr: [-2.5, 2.5], xt: T2, yr: [14, 22, 2], l: B_COLS[0], t: B_TOPS[0], w: 84, h: 51, yl: 13 },
  { title: "dT5-C6 25 °C pH 6.0", x: X_C25, y: Y18, pw: W18, xr: [-2.5, 2.5], xt: T2, yr: [16, 28, 2], l: B_COLS[1], t: B_TOPS[0], w: 86, h: 51 },
  { title: "dG15-C1' 25 °C pH 6.0", x: X_W, y: Y19, w_: true, ref: R19, dash: true, xr: [0, 3.7], xt: TW, yr: [9, 14, 1], l: B_COLS[2], t: B_TOPS[0], w: 84, h: 51 },
  { title: "dT5-C1' 25 °C pH 6.0", x: X_C25, y: Y20, pw: W20, xr: [-2.5, 2.5], xt: T2, yr: [5, 20, 5], l: B_COLS[3], t: B_TOPS[0], w: 86, h: 51 },

  { title: "dG15-C8 25 °C pH 6.9", x: X_C16, y: Y21, pw: W21, xr: [-1.75, 1.75], xt: [-1.5, -1, -0.5, 0, 0.5, 1, 1.5], xf: 1, yr: [14, 19, 1], l: B_COLS[0], t: B_TOPS[1], w: 84, h: 51, yl: 13 },
  { title: "dT5-C6 25 °C pH 6.9", x: X_C25, y: Y22, pw: W22, xr: [-2.5, 2.5], xt: T2, yr: [16, 24, 2], l: B_COLS[1], t: B_TOPS[1], w: 86, h: 51 },
  { title: "dG15-C1' 25 °C pH 6.9", x: X_C23, y: Y23, pw: W23, nofit: true, ref: R23, xr: [-2.4, 2.4], xt: T2, yr: [6, 16, 2], l: B_COLS[2], t: B_TOPS[1], w: 84, h: 51 },
  { title: "dT5-C1' 25 °C pH 6.9", x: X_C35, y: Y24, pw: W24, nofit: true, ref: R24, xr: [-3.6, 3.6], xt: [-3, -2, -1, 0, 1, 2, 3], yr: [6, 16, 2], l: B_COLS[3], t: B_TOPS[1], w: 86, h: 51 },

  { title: "dG15-C8 25 °C pH 7.9", x: X_C25, y: Y25, pw: W25, xr: [-2.5, 2.5], xt: T2, yr: [14.5, 18], yt: [15, 16, 17, 18], l: B_COLS[0], t: B_TOPS[2], w: 84, h: 51, yl: 13 },
  { title: "dT5-C6 25 °C pH 7.9", x: X_C10, y: Y26, fits: F26, pw: W26, xr: [-1, 1, 0.5], xf: 1, yr: [18, 24, 2], l: B_COLS[1], t: B_TOPS[2], w: 86, h: 51 },
  { title: "dG15-C1' 25 °C pH 7.9", x: X_W, y: Y27, w_: true, ref: R27, dash: true, xr: [0, 3.7], xt: TW, yr: [9, 14, 1], l: B_COLS[2], t: B_TOPS[2], w: 84, h: 51 },
  { title: "dT5-C1' 25 °C pH 7.9", x: X_W28, y: Y28, w_: true, ref: R28, dashFit: true, xr: [0, 3.7], xt: TW, yr: [8, 14, 2], l: B_COLS[3], t: B_TOPS[2], w: 86, h: 51 },

  { title: "dG15-C8 25 °C pH 8.4", x: X_C2, y: Y29, pw: W29, xr: [-2, 2, 1], yr: [16, 19, 1], l: B_COLS[0], t: B_TOPS[3], w: 84, h: 51, yl: 13 },
  { title: "dT5-C6 25 °C pH 8.4", x: X_C25, y: Y30, pw: W30, xr: [-2.5, 2.5], xt: T2, yr: [18, 24, 2], l: B_COLS[1], t: B_TOPS[3], w: 86, h: 51 },
  { title: "dG15-C1' 25 °C pH 8.4", x: X_W, y: Y31, w_: true, ref: R31, xr: [0, 3.7], xt: TW, yr: [10, 14, 1], l: B_COLS[2], t: B_TOPS[3], w: 84, h: 51 },
  { title: "dT5-C1' 25 °C pH 8.4", x: X_C45, y: Y32, pw: W32, xr: [-4.6, 4.6], xt: [-4, -3, -2, -1, 0, 1, 2, 3, 4], yr: [6, 24], yt: [8, 12, 16, 20, 24], l: B_COLS[3], t: B_TOPS[3], w: 86, h: 51 },

  { title: "dG4-N1 25 °C pH 6.8", x: X_N5, y: Y33, f0: F33, pw: W33, xr: [-5, 5, 1], yr: [0, 50, 10], l: C_COLS[0], t: 648, w: 80, h: 41, yl: 11 },
  { title: "dT9-N3 25 °C pH 6.8", x: X_N4, y: Y34, f0: F34, pw: W34, xr: [-4, 4, 1], yr: [5, 25, 5], l: C_COLS[1], t: 648, w: 82, h: 41 },
  { title: "dG4-C8 25 °C pH 6.8", x: X_C25, y: Y35, pw: W35, xr: [-2.5, 2.5], xt: T2, yr: [24, 30, 2], l: C_COLS[2], t: 648, w: 89, h: 41 },
  { title: "dT9-C6 25 °C pH 6.8", x: X_C25, y: Y36, pw: W36, xr: [-2.5, 2.5], xt: T2, yr: [28, 38, 2], l: C_COLS[3], t: 648, w: 83, h: 41 },
  { title: "dG4-C1' 25 °C pH 6.8", x: X_W, y: Y37, w_: true, ref: R37, xr: [0, 3.7], xt: TW, yr: [14, 20, 2], l: C_COLS[4], t: 648, w: 86, h: 41 },
  { title: "dT9-C1' 25 °C pH 6.8", x: X_C0, y: Y38, pw: W38, xr: [-2.5, 2.5], xt: T2, yr: [12, 20, 2], l: C_COLS[5], t: 648, w: 87, h: 41 },
];

function pts(x: number[], y: (number | null)[]) {
  const out: number[][] = [];
  x.forEach((xv, i) => {
    const v = y[i];
    if (v !== null && v !== undefined) out.push([xv, v]);
  });
  return out;
}

function buildOption() {
  const grid: any[] = [];
  const xAxis: any[] = [];
  const yAxis: any[] = [];
  const series: any[] = [];
  const graphic: any[] = [];
  const axisBase = {
    axisLine: { show: false, onZero: false },
    splitLine: { show: false },
    axisTick: { inside: true, length: 2, lineStyle: { color: "#777", width: 0.7 } },
  };
  const labelStyle = { fontSize: 6.6, color: "#222", fontFamily: FONT, margin: 2.5 };
  const subRich = {
    i: { fontStyle: "italic", fontSize: 7.2, fontFamily: FONT, color: "#222", lineHeight: 10 },
    s: { fontSize: 5, fontFamily: FONT, color: "#222", lineHeight: 5, verticalAlign: "bottom" },
    n: { fontSize: 7.2, fontFamily: FONT, color: "#222", lineHeight: 10 },
  };

  PANELS.forEach((p, i) => {
    grid.push({ left: p.l, top: p.t, width: p.w, height: p.h, show: true, borderColor: "#8a8a8a", borderWidth: 0.8, backgroundColor: "#fff" });
    const xa: any = {
      type: "value", gridIndex: i, min: p.xr[0], max: p.xr[1], ...axisBase,
      axisLabel: { ...labelStyle, formatter: p.xf ? (v: number) => v.toFixed(1) : (v: number) => String(v) },
      name: p.w_ ? "{i|ω}{s|eff}{n| 2π⁻¹ (kHz)}" : "{i|Ω}{s|eff}{n| 2π⁻¹ (kHz)}",
      nameLocation: "middle", nameGap: 9,
      nameTextStyle: { fontSize: 7.2, fontFamily: FONT, color: "#222", rich: subRich },
    };
    if (p.xt) {
      xa.axisLabel.customValues = p.xt;
      xa.axisTick = { ...axisBase.axisTick, customValues: p.xt };
    } else {
      xa.interval = p.xr[2];
    }
    xAxis.push(xa);
    const ya: any = {
      type: "value", gridIndex: i, min: p.yr[0], max: p.yr[1], ...axisBase,
      axisLabel: { ...labelStyle },
    };
    if (p.yt) {
      ya.axisLabel.customValues = p.yt;
      ya.axisTick = { ...axisBase.axisTick, customValues: p.yt };
    } else {
      ya.interval = p.yr[2];
    }
    if (p.yl) {
      ya.name = "{n|R}{s|2}{n| + R}{s|ex}{n| (s⁻¹)}";
      ya.nameLocation = "middle";
      ya.nameRotate = 90;
      ya.nameGap = p.yl + 6;
      ya.nameTextStyle = { fontSize: 7.2, fontFamily: FONT, color: "#222", rich: subRich };
    }
    yAxis.push(ya);

    // reference lines
    if (p.ref) {
      series.push({
        type: "line", xAxisIndex: i, yAxisIndex: i, data: p.ref, showSymbol: false, silent: true,
        lineStyle: { color: p.dash ? "#555" : "#9a9a9a", width: 0.8, type: p.dash ? "dashed" : "solid" }, z: 1,
      });
    }
    // fit curves
    if (!p.w_ && !p.nofit) {
      p.y.forEach((yy: any[], k: number) => {
        let src = yy;
        if (k === 0 && p.f0) src = p.f0;
        if (p.fits && p.fits[k]) src = p.fits[k];
        series.push({
          type: "line", xAxisIndex: i, yAxisIndex: i, data: pts(p.x, src), showSymbol: false, smooth: 0.35,
          silent: true, lineStyle: { color: FITC[k], width: k === 0 ? 0.7 : 0.8 }, z: 2,
        });
      });
    }
    if (p.dashFit) {
      series.push({
        type: "line", xAxisIndex: i, yAxisIndex: i, data: pts(p.x, p.y[0]), showSymbol: false, smooth: 0.3,
        silent: true, lineStyle: { color: "#333", width: 0.8, type: "dashed" }, z: 2,
      });
    }
    // data points, highest power drawn first
    for (let k = p.y.length - 1; k >= 0; k--) {
      series.push({
        type: "scatter", xAxisIndex: i, yAxisIndex: i, data: pts(p.x, p.y[k]),
        symbol: "circle", symbolSize: p.h < 45 ? 2.8 : 3.1, silent: true,
        itemStyle: { color: COL[k], opacity: 0.95 }, z: 3,
      });
    }

    // panel title
    graphic.push({
      type: "text", x: p.l + p.w / 2, y: p.t - 1.5, silent: true,
      style: { text: p.title, fontSize: 7.2, fontFamily: FONT, fill: "#222", align: "center", verticalAlign: "bottom" },
    });
    // legend: header line + rows of coloured powers
    if (p.pw) {
      const cx = p.l + p.w * 0.73;
      graphic.push({
        type: "text", x: cx, y: p.t + 3, silent: true, z: 10,
        style: { text: "ω 2π⁻¹ (Hz)", align: "center", verticalAlign: "top", fontSize: 4.9, fontFamily: FONT, fill: "#333" },
      });
      for (let a = 0, row = 1; a < p.pw.length; a += 3, row++) {
        const rich: any = {};
        const parts: string[] = [];
        p.pw.slice(a, a + 3).forEach((w: string, j: number) => {
          rich["k" + j] = { fill: COL[a + j], fontSize: 5.2, fontFamily: FONT };
          parts.push(`{k${j}|${w}}`);
        });
        graphic.push({
          type: "text", x: cx, y: p.t + 3 + row * 6.4, silent: true, z: 10,
          style: { text: parts.join(" "), rich, align: "center", verticalAlign: "top", fontSize: 5.2, fontFamily: FONT, fill: "#333" },
        });
      }
    }
  });

  const supRich = {
    b: { fontSize: 10.5, fontFamily: FONT, fill: "#222" },
    u: { fontSize: 6.5, fontFamily: FONT, fill: "#222", verticalAlign: "top", lineHeight: 6 },
  };
  const head = (txt: string, x: number, y: number) => ({
    type: "text", x, y, silent: true,
    style: { text: txt, rich: supRich, align: "center", verticalAlign: "middle", fontSize: 10.5, fontFamily: FONT, fill: "#222" },
  });
  const letter = (t: string, x: number, y: number) => ({
    type: "text", x, y, silent: true,
    style: { text: t, fontSize: 11, fontWeight: "bold", fontFamily: FONT, fill: "#111", verticalAlign: "middle" },
  });
  graphic.push(letter("a", 1, 6));
  graphic.push(head("{b|hp-GT DNA }{u|15}{b|N RD}", 304, 7));
  graphic.push(letter("b", 99, 281));
  graphic.push(head("{b|hp-GT DNA }{u|13}{b|C RD}", 308, 281));
  graphic.push(letter("c", 1, 632));
  graphic.push(head("{b|Dickerson-GT DNA }{u|15}{b|N RD}", 112, 631));
  graphic.push(head("{b|Dickerson-GT DNA }{u|13}{b|C RD}", 416, 631));
  graphic.push({
    type: "text", x: 503, y: 203, silent: true,
    style: {
      text: "* Denotes duplicate RD profiles\n   collected on a different\n   spectrometer from the\n   preceding profiles.",
      fontSize: 6.4, lineHeight: 9.3, fontFamily: FONT, fill: "#222", align: "left", verticalAlign: "top",
    },
  });

  return { animation: false, backgroundColor: "#fff", grid, xAxis, yAxis, series, graphic };
}

export default function App() {
  const ref = useRef<HTMLDivElement>(null);
  useEffect(() => {
    if (!ref.current) return;
    const chart = echarts.init(ref.current, undefined, { renderer: "svg" });
    chart.setOption(buildOption() as any);
    return () => chart.dispose();
  }, []);
  return (
    <div
      ref={ref}
      style={{ position: "absolute", left: 0, top: 0, width: 603, height: 710, background: "#fff" }}
    />
  );
}
